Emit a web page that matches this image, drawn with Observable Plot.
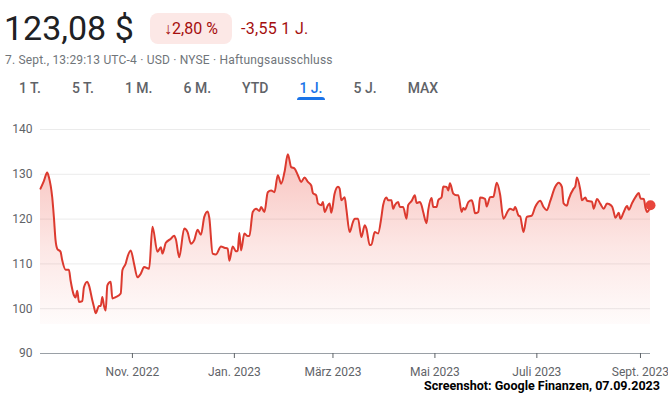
<!DOCTYPE html>
<html>
<head>
<meta charset="utf-8">
<script src="https://cdn.jsdelivr.net/npm/d3@7"></script>
<script src="https://cdn.jsdelivr.net/npm/@observablehq/plot@0.6"></script>
<style>
html, body { margin: 0; padding: 0; background: #fff; }
body { width: 668px; height: 396px; position: relative; overflow: hidden; font-family: Roboto, "Noto Sans", sans-serif; }
.abs { position: absolute; white-space: nowrap; }
#price { left: 4px; top: 7px; font-size: 34px; line-height: 42px; color: #202124; }
#badge { left: 150px; top: 13px; width: 82px; height: 31px; border-radius: 8px; background: #fce8e6; color: #a50e0e; font-size: 16px; line-height: 31px; text-align: center; }
#change { left: 241px; top: 19px; font-size: 16px; line-height: 20px; color: #a50e0e; letter-spacing: 0.3px; }
#sub { left: 5px; top: 52px; font-size: 12px; line-height: 16px; color: #70757a; letter-spacing: 0.19px; }
#tabs { left: 19px; top: 80px; display: flex; gap: 31px; font-size: 14px; line-height: 16px; color: #5f6368; font-weight: 500; }
.tab { position: relative; }
.tab.active { color: #1a73e8; }
.tab.active::after { content: ""; position: absolute; left: -2px; right: -2px; top: 17px; height: 3px; border-radius: 3px 3px 0 0; background: #1a73e8; }
#chart { position: absolute; left: 0; top: 110px; }
#caption { left: 424px; top: 379px; font-weight: bold; font-size: 13px; line-height: 14px; color: #000; transform-origin: left center; }
</style>
</head>
<body>
<div id="price" class="abs"></div>
<div id="badge" class="abs"></div>
<div id="change" class="abs"></div>
<div id="sub" class="abs"></div>
<div id="tabs" class="abs"></div>
<div id="chart"></div>
<div id="caption" class="abs"></div>
<script>
// ---- Header texts ----
const priceText = "123,08 $";
const changePctText = "↓2,80 %";
const changeAbsText = "-3,55 1 J.";
const subText = "7. Sept., 13:29:13 UTC-4 · USD · NYSE · Haftungsausschluss";
const tabs = ["1 T.", "5 T.", "1 M.", "6 M.", "YTD", "1 J.", "5 J.", "MAX"];
const activeTab = "1 J.";
const captionText = "Screenshot: Google Finanzen, 07.09.2023";

// ---- Axis ticks ----
const yTicks = [90, 100, 110, 120, 130, 140];
const gridValues = [100, 110, 120, 130, 140];
const xTickDates = ["2022-11-01", "2023-01-01", "2023-03-01", "2023-05-01", "2023-07-01", "2023-09-01"];
const xTickLabels = ["Nov. 2022", "Jan. 2023", "März 2023", "Mai 2023", "Juli 2023", "Sept. 2023"];
const fillBase = 96.5;

// ---- Series ----
const dates = [
"2022-09-07","2022-09-09","2022-09-11","2022-09-12","2022-09-14","2022-09-15","2022-09-16","2022-09-17","2022-09-19","2022-09-20",
"2022-09-22","2022-09-24","2022-09-25","2022-09-27","2022-09-28","2022-09-29","2022-09-30","2022-10-02","2022-10-03","2022-10-05",
"2022-10-06","2022-10-08","2022-10-09","2022-10-10","2022-10-12","2022-10-13","2022-10-14","2022-10-15","2022-10-16","2022-10-17",
"2022-10-19","2022-10-20","2022-10-22","2022-10-25","2022-10-26","2022-10-28","2022-10-29","2022-10-31","2022-11-02","2022-11-04",
"2022-11-06","2022-11-08","2022-11-11","2022-11-13","2022-11-16","2022-11-18","2022-11-19","2022-11-21","2022-11-24","2022-11-26",
"2022-11-27","2022-11-29","2022-12-02","2022-12-04","2022-12-06","2022-12-08","2022-12-10","2022-12-12","2022-12-14","2022-12-16",
"2022-12-17","2022-12-19","2022-12-21","2022-12-24","2022-12-26","2022-12-28","2022-12-29","2022-12-31","2023-01-02","2023-01-03",
"2023-01-04","2023-01-05","2023-01-07","2023-01-09","2023-01-10","2023-01-12","2023-01-14","2023-01-16","2023-01-17","2023-01-19",
"2023-01-21","2023-01-23","2023-01-25","2023-01-27","2023-01-29","2023-01-31","2023-02-02","2023-02-04","2023-02-06","2023-02-08",
"2023-02-10","2023-02-12","2023-02-14","2023-02-16","2023-02-17","2023-02-19","2023-02-20","2023-02-22","2023-02-23","2023-02-24",
"2023-02-26","2023-02-27","2023-02-28","2023-03-02","2023-03-04","2023-03-05","2023-03-06","2023-03-08","2023-03-09","2023-03-11",
"2023-03-13","2023-03-14","2023-03-16","2023-03-18","2023-03-20","2023-03-21","2023-03-23","2023-03-24","2023-03-26","2023-03-28",
"2023-03-30","2023-03-31","2023-04-02","2023-04-03","2023-04-05","2023-04-06","2023-04-07","2023-04-09","2023-04-10","2023-04-12",
"2023-04-14","2023-04-15","2023-04-17","2023-04-19","2023-04-20","2023-04-22","2023-04-23","2023-04-24","2023-04-26","2023-04-27",
"2023-04-29","2023-04-30","2023-05-02","2023-05-03","2023-05-05","2023-05-06","2023-05-08","2023-05-09","2023-05-10","2023-05-12",
"2023-05-14","2023-05-15","2023-05-17","2023-05-18","2023-05-19","2023-05-21","2023-05-23","2023-05-24","2023-05-25","2023-05-27",
"2023-05-28","2023-05-31","2023-06-01","2023-06-03","2023-06-05","2023-06-07","2023-06-09","2023-06-11","2023-06-14","2023-06-15",
"2023-06-17","2023-06-18","2023-06-20","2023-06-21","2023-06-23","2023-06-25","2023-06-28","2023-06-30","2023-07-03","2023-07-05",
"2023-07-07","2023-07-09","2023-07-12","2023-07-14","2023-07-16","2023-07-17","2023-07-19","2023-07-20","2023-07-23","2023-07-24",
"2023-07-25","2023-07-27","2023-07-28","2023-07-30","2023-07-31","2023-08-03","2023-08-04","2023-08-06","2023-08-08","2023-08-10",
"2023-08-12","2023-08-13","2023-08-15","2023-08-16","2023-08-17","2023-08-19","2023-08-20","2023-08-22","2023-08-24","2023-08-25",
"2023-08-27","2023-08-29","2023-08-31","2023-09-01","2023-09-03","2023-09-04","2023-09-05","2023-09-06","2023-09-07"
];
const prices = [
126.8,128.5,130.4,129.4,124.9,120.5,115.3,113.4,112.7,110.8,
108.7,108.7,106.3,103.0,102.5,104.0,101.5,101.7,104.8,106.0,
105.2,101.9,100.4,99.0,100.6,100.6,102.6,100.6,99.6,105.2,
106.0,102.3,102.6,103.4,108.6,110.1,111.5,113.0,110.0,107.0,
107.8,109.3,108.9,118.3,112.7,113.7,112.3,114.7,115.6,116.3,
115.5,111.5,117.9,117.1,114.5,115.3,117.6,116.5,120.5,121.7,
120.3,112.3,112.1,113.9,113.6,113.4,110.7,113.9,112.8,113.0,
116.9,113.0,116.8,116.2,116.2,121.6,122.3,121.8,122.7,121.6,
126.0,126.4,126.0,129.8,127.9,130.5,134.5,131.6,131.3,129.8,
128.3,129.3,128.3,127.5,125.8,125.3,123.5,123.1,123.8,121.6,
123.1,123.5,121.4,125.7,127.2,126.8,124.2,124.9,122.3,117.1,
119.4,120.1,120.1,116.0,118.6,117.9,114.2,114.3,117.1,116.8,
120.5,123.1,124.8,124.2,124.2,122.3,123.1,123.8,122.7,122.7,
120.1,123.1,124.0,125.3,123.6,123.8,123.1,121.6,119.1,122.0,
124.7,122.7,122.7,124.2,124.9,127.3,127.2,126.4,128.0,125.7,
125.3,125.3,121.6,122.5,122.1,123.8,124.2,123.1,121.3,121.6,
124.8,124.5,122.8,124.9,125.0,128.1,125.5,120.1,122.0,122.3,
122.0,122.7,120.8,120.6,117.1,120.5,120.8,122.7,124.1,122.7,
122.0,124.0,127.2,128.1,127.2,123.5,123.0,124.4,126.8,127.3,
129.3,126.5,124.2,124.8,124.1,123.9,122.3,124.5,123.4,122.3,
123.5,123.4,122.8,121.6,120.3,121.4,120.1,121.6,122.9,122.1,
123.6,124.9,125.8,124.6,124.5,122.5,121.6,122.0,123.08
];

// ---- Header ----
document.getElementById("price").textContent = priceText;
document.getElementById("badge").textContent = changePctText;
document.getElementById("change").textContent = changeAbsText;
document.getElementById("sub").textContent = subText;
const tabsEl = document.getElementById("tabs");
tabs.forEach(t => {
  const s = document.createElement("span");
  s.className = "tab" + (t === activeTab ? " active" : "");
  s.textContent = t;
  tabsEl.appendChild(s);
});
const cap = document.getElementById("caption");
cap.textContent = captionText;
const capW = cap.getBoundingClientRect().width;
cap.style.transform = `scaleX(${236 / capW})`;

// ---- Chart ----
const data = dates.map((d, i) => ({date: new Date(d), price: prices[i]}));
const red = "#dc3a2f";

const svg = Plot.plot({
  width: 668,
  height: 286,
  marginLeft: 40,
  marginRight: 18,
  marginTop: 19,
  marginBottom: 43,
  style: {fontFamily: "Roboto, sans-serif", fontSize: "12px", color: "#5f6368", background: "transparent", overflow: "visible"},
  x: {type: "utc", domain: [data[0].date, data[data.length - 1].date]},
  y: {domain: [90, 140]},
  marks: [
    Plot.ruleY(gridValues, {stroke: "#ebebeb", strokeWidth: 1}),
    Plot.areaY(data, {x: "date", y1: () => fillBase, y2: "price", fill: "url(#areaGrad)", curve: "monotone-x"}),
    Plot.ruleY([90], {stroke: "#9aa0a6", strokeWidth: 1}),
    Plot.axisY({ticks: yTicks, tickSize: 0, tickPadding: 8, label: null, fontSize: 12}),
    Plot.axisX({ticks: xTickDates.map(d => new Date(d)), tickFormat: (d, i) => xTickLabels[i], tickSize: 5, tickPadding: 9, label: null, fontSize: 12}),
    Plot.line(data, {x: "date", y: "price", stroke: red, strokeWidth: 2, curve: "monotone-x"}),
    Plot.dot(data.slice(-1), {x: "date", y: "price", r: 5, fill: "#e8453c", stroke: "none"})
  ]
});

d3.select(svg).insert("defs", ":first-child").html(
  `<linearGradient id="areaGrad" x1="0" y1="0" x2="0" y2="1">
     <stop offset="0%" stop-color="#ea4335" stop-opacity="0.32"/>
     <stop offset="55%" stop-color="#ea4335" stop-opacity="0.13"/>
     <stop offset="100%" stop-color="#ea4335" stop-opacity="0.02"/>
   </linearGradient>`
);
document.getElementById("chart").appendChild(svg);
</script>
</body>
</html>
